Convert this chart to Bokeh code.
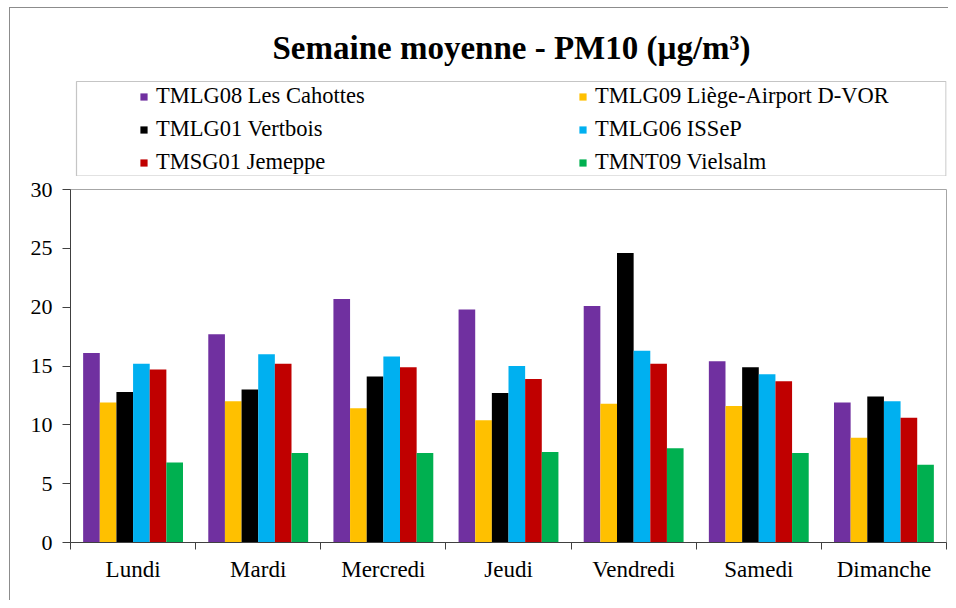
from bokeh.plotting import figure
from bokeh.layouts import column
from bokeh.models import (ColumnDataSource, Range1d, FixedTicker, Legend, LegendItem,
                          Label, BoxAnnotation)
from bokeh.transform import dodge
from bokeh.embed import file_html
from bokeh.resources import INLINE

days = ["Lundi", "Mardi", "Mercredi", "Jeudi", "Vendredi", "Samedi", "Dimanche"]
series_names = ["TMLG08 Les Cahottes", "TMLG09 Liège-Airport D-VOR", "TMLG01 Vertbois",
                "TMLG06 ISSeP", "TMSG01 Jemeppe", "TMNT09 Vielsalm"]
colors = ["#7030A0", "#FFC000", "#000000", "#00B0F0", "#C00000", "#00B050"]
title_text = "Semaine moyenne - PM10 (µg/m³)"

cahottes = [16.1, 17.7, 20.7, 19.8, 20.1, 15.4, 11.9]
liege = [11.9, 12.0, 11.4, 10.4, 11.8, 11.6, 8.9]
vertbois = [12.8, 13.0, 14.1, 12.7, 24.6, 14.9, 12.4]
issep = [15.2, 16.0, 15.8, 15.0, 16.3, 14.3, 12.0]
jemeppe = [14.7, 15.2, 14.9, 13.9, 15.2, 13.7, 10.6]
vielsalm = [6.8, 7.6, 7.6, 7.7, 8.0, 7.6, 6.6]
values = [cahottes, liege, vertbois, issep, jemeppe, vielsalm]

FONT = "Liberation Serif"
W = 948
HEAD_H = 176
LEFT = 70
RIGHT_B = 2

# ---------------- header: title + legend ----------------
# (its frame is aligned by the column layout with the chart frame: x 70..946)
head = figure(width=W, height=HEAD_H, output_backend="svg", toolbar_location=None,
              x_range=Range1d(LEFT, W - RIGHT_B), y_range=Range1d(HEAD_H, 0),
              x_axis_location=None, y_axis_location=None,
              min_border_left=0, min_border_right=0, min_border_top=0, min_border_bottom=0)
head.xgrid.visible = False
head.ygrid.visible = False
head.outline_line_color = None
head.background_fill_alpha = 0
head.border_fill_alpha = 0

head.add_layout(Label(x=511, y=47, text=title_text, text_font=FONT,
                      text_font_size="33px", text_font_style="bold", text_align="center",
                      text_baseline="middle", text_color="black"))
head.add_layout(BoxAnnotation(left=76, right=945.5, top=81, bottom=175.5,
                              fill_alpha=0, line_color="#404040", line_width=1.2))

swatches = [head.vbar(x=[0], top=[0], bottom=[0], width=0, fill_color=c, line_color=None)
            for c in colors]

def make_legend(idx, x):
    return Legend(items=[LegendItem(label=series_names[k], renderers=[swatches[k]]) for k in idx],
                  location=(x, 1), orientation="vertical", padding=0, margin=0,
                  spacing=7, glyph_width=9, glyph_height=9, label_standoff=8,
                  label_height=24, border_line_color=None, background_fill_alpha=0,
                  label_text_font=FONT, label_text_font_size="22.5px", label_text_color="black")

head.add_layout(make_legend([0, 2, 4], 139 - LEFT))
head.add_layout(make_legend([1, 3, 5], 578 - LEFT))

# ---------------- main chart ----------------
src = ColumnDataSource(dict(x=[i + 0.5 for i in range(len(days))],
                            **{f"s{k}": v for k, v in enumerate(values)}))

p = figure(width=W, height=600 - HEAD_H, output_backend="svg", toolbar_location=None,
           x_range=Range1d(0, len(days)), y_range=Range1d(0, 30),
           min_border_left=LEFT, min_border_right=RIGHT_B, min_border_top=13, min_border_bottom=58)
p.xgrid.visible = False
p.ygrid.visible = False
p.outline_line_color = "#A6A6A6"
p.background_fill_color = "white"
p.border_fill_alpha = 0

bw = 0.133
for k, name in enumerate(series_names):
    p.vbar(x=dodge("x", (k - 2.5) * bw, range=p.x_range), top=f"s{k}", width=bw,
           source=src, fill_color=colors[k], line_color=None)

p.yaxis.ticker = FixedTicker(ticks=[0, 5, 10, 15, 20, 25, 30])
p.yaxis.major_tick_out = 8
p.yaxis.major_tick_in = 0
p.yaxis.minor_tick_line_color = None
p.yaxis.axis_line_color = "#404040"
p.yaxis.major_tick_line_color = "#404040"
p.yaxis.major_label_text_font = FONT
p.yaxis.major_label_text_font_size = "22px"
p.yaxis.major_label_text_color = "black"
p.yaxis.major_label_standoff = 10

p.xaxis.ticker = FixedTicker(ticks=[i + 0.5 for i in range(len(days))],
                             minor_ticks=list(range(len(days) + 1)))
p.xaxis.major_label_overrides = {i + 0.5: d for i, d in enumerate(days)}
p.xaxis.major_tick_line_color = None
p.xaxis.minor_tick_out = 7
p.xaxis.minor_tick_in = 0
p.xaxis.minor_tick_line_color = "#404040"
p.xaxis.axis_line_color = "#404040"
p.xaxis.major_label_text_font = FONT
p.xaxis.major_label_text_font_size = "23px"
p.xaxis.major_label_text_color = "black"
p.xaxis.major_label_standoff = 7

layout = column(head, p, spacing=0, styles={
    "background-color": "white",
    "background-image": "linear-gradient(#8c8c8c,#8c8c8c), linear-gradient(#8c8c8c,#8c8c8c)",
    "background-size": "1px 100%, 100% 1px",
    "background-position": "9px 7px, 9px 7px",
    "background-repeat": "no-repeat",
})

open("out.html", "w").write(file_html(layout, INLINE))
